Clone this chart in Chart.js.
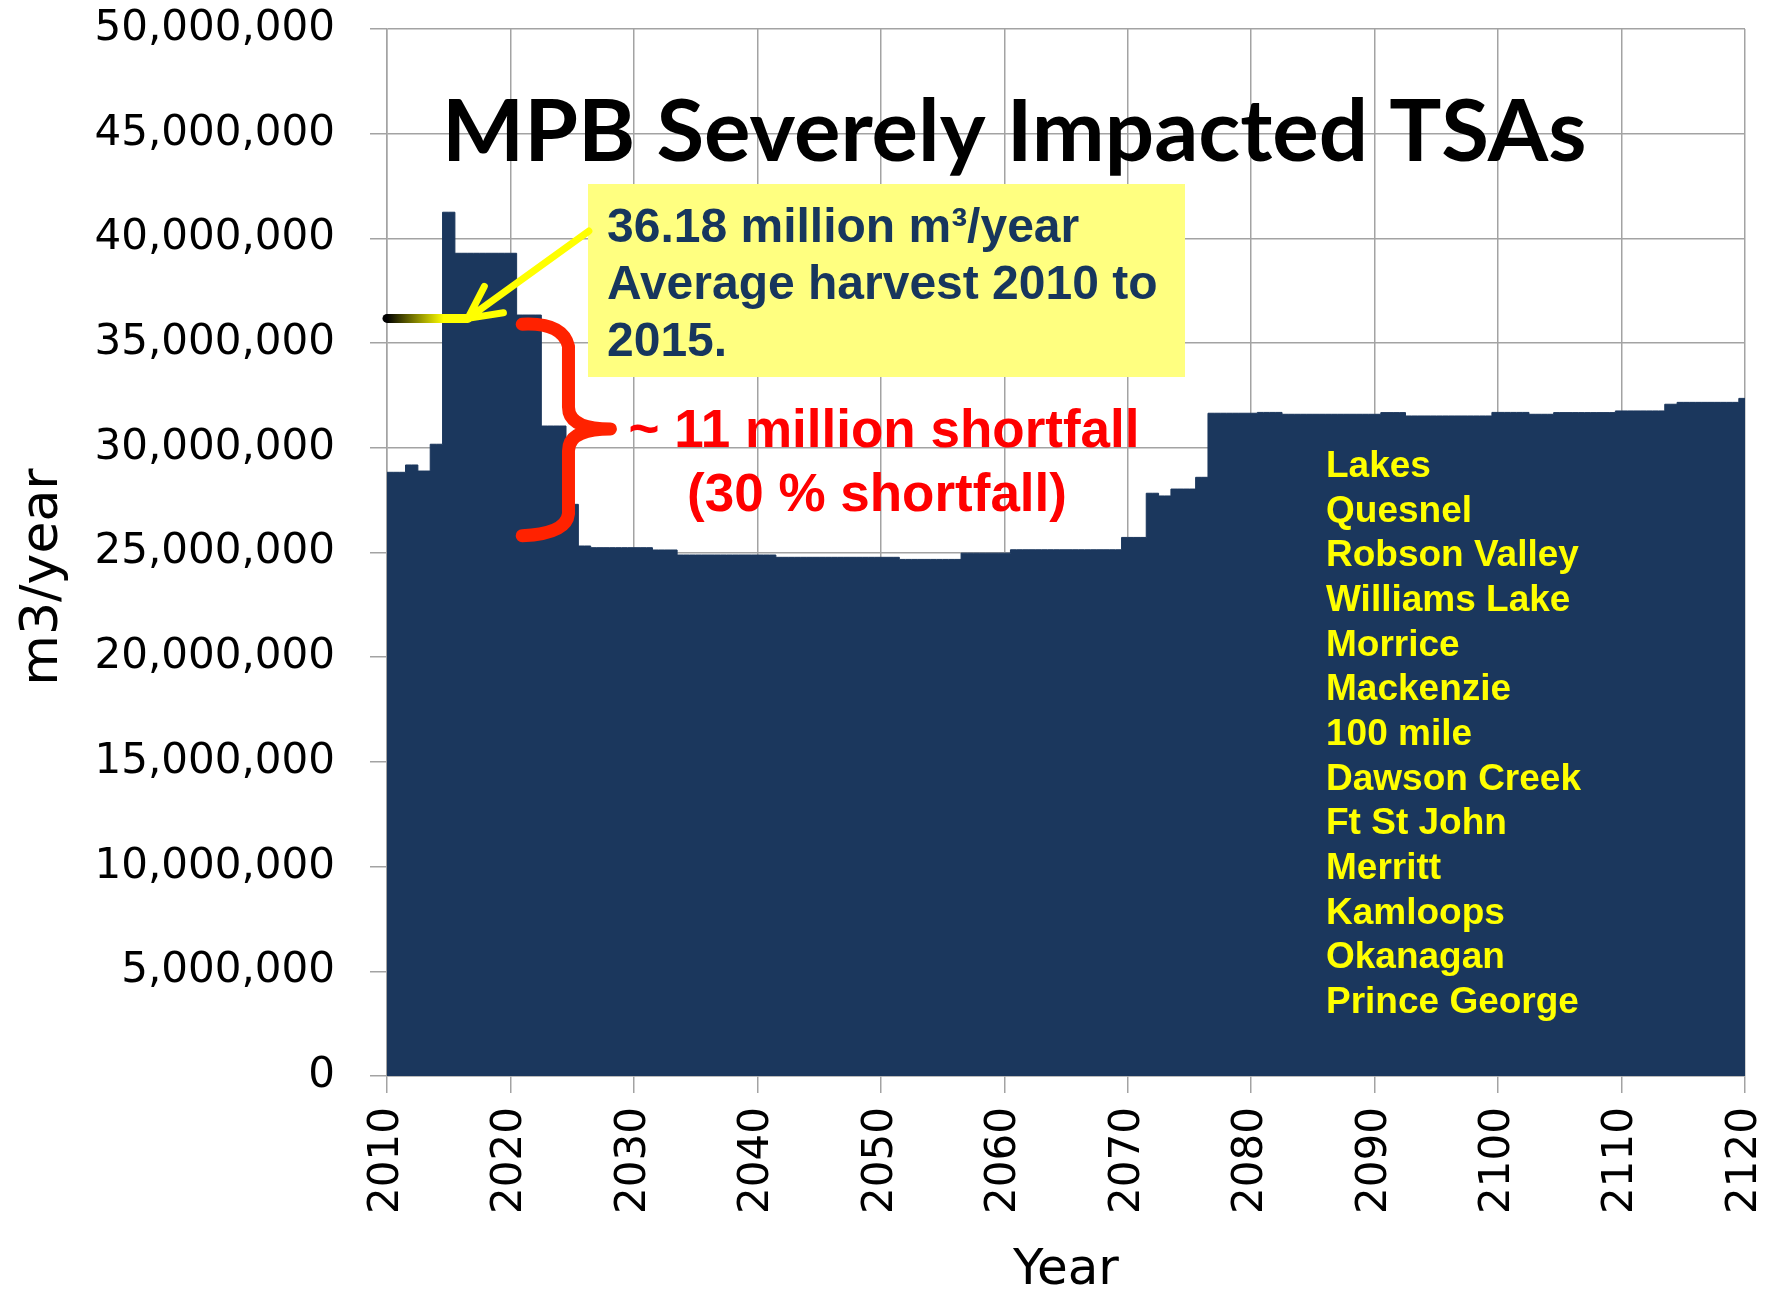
<!DOCTYPE html>
<html lang="en">
<head>
<meta charset="utf-8">
<title>MPB Severely Impacted TSAs</title>
<script src="https://cdn.jsdelivr.net/npm/chart.js@4.4.1/dist/chart.umd.min.js"></script>
<style>
    html, body { margin: 0; padding: 0; background: #ffffff; }
    #chart-wrap { width: 1781px; height: 1292px; }
</style>
</head>
<body>
<div id="chart-wrap">
    <canvas id="harvestChart" width="1781" height="1292"></canvas>
</div>
<script>
// Projected annual harvest (m3/year), one value per year 2010..2120
const years = [
    2010, 2011, 2012, 2013, 2014, 2015, 2016, 2017, 2018, 2019,
    2020, 2021, 2022, 2023, 2024, 2025, 2026, 2027, 2028, 2029,
    2030, 2031, 2032, 2033, 2034, 2035, 2036, 2037, 2038, 2039,
    2040, 2041, 2042, 2043, 2044, 2045, 2046, 2047, 2048, 2049,
    2050, 2051, 2052, 2053, 2054, 2055, 2056, 2057, 2058, 2059,
    2060, 2061, 2062, 2063, 2064, 2065, 2066, 2067, 2068, 2069,
    2070, 2071, 2072, 2073, 2074, 2075, 2076, 2077, 2078, 2079,
    2080, 2081, 2082, 2083, 2084, 2085, 2086, 2087, 2088, 2089,
    2090, 2091, 2092, 2093, 2094, 2095, 2096, 2097, 2098, 2099,
    2100, 2101, 2102, 2103, 2104, 2105, 2106, 2107, 2108, 2109,
    2110, 2111, 2112, 2113, 2114, 2115, 2116, 2117, 2118, 2119,
    2120
];

const harvest = [
    28.83e6, 28.83e6, 29.18e6, 28.89e6, 30.17e6, 41.25e6, 39.29e6, 39.29e6, 39.29e6, 39.29e6,
    39.29e6, 36.34e6, 36.34e6, 31.04e6, 31.04e6, 27.30e6, 25.31e6, 25.23e6, 25.23e6, 25.23e6,
    25.23e6, 25.23e6, 25.12e6, 25.12e6, 24.88e6, 24.88e6, 24.88e6, 24.88e6, 24.88e6, 24.88e6,
    24.88e6, 24.88e6, 24.77e6, 24.77e6, 24.77e6, 24.77e6, 24.77e6, 24.77e6, 24.77e6, 24.77e6,
    24.77e6, 24.77e6, 24.67e6, 24.67e6, 24.67e6, 24.67e6, 24.67e6, 24.97e6, 24.97e6, 24.97e6,
    24.97e6, 25.13e6, 25.13e6, 25.13e6, 25.13e6, 25.13e6, 25.13e6, 25.13e6, 25.13e6, 25.13e6,
    25.72e6, 25.72e6, 27.83e6, 27.70e6, 28.03e6, 28.03e6, 28.59e6, 31.65e6, 31.65e6, 31.65e6,
    31.65e6, 31.69e6, 31.69e6, 31.60e6, 31.60e6, 31.60e6, 31.60e6, 31.60e6, 31.60e6, 31.60e6,
    31.60e6, 31.68e6, 31.68e6, 31.52e6, 31.52e6, 31.52e6, 31.52e6, 31.52e6, 31.52e6, 31.52e6,
    31.69e6, 31.69e6, 31.69e6, 31.60e6, 31.60e6, 31.68e6, 31.68e6, 31.68e6, 31.68e6, 31.68e6,
    31.76e6, 31.76e6, 31.76e6, 31.76e6, 32.08e6, 32.17e6, 32.17e6, 32.17e6, 32.17e6, 32.17e6,
    32.36e6
];

// Average harvest 2010 to 2015 (m3/year)
const AVG_HARVEST = 36.18e6;

const tsaNames = [
    'Lakes', 'Quesnel', 'Robson Valley', 'Williams Lake', 'Morrice', 'Mackenzie',
    '100 mile', 'Dawson Creek', 'Ft St John', 'Merritt', 'Kamloops', 'Okanagan',
    'Prince George'
];

const noteLines = ['36.18 million m\u00b3/year', 'Average harvest 2010 to', '2015.'];
const shortfallLines = ['~ 11 million shortfall', '(30 % shortfall)'];

const FILL_NAVY = '#1b375d';
const GRID_GREY = '#a3a3a3';
const TICK_FONT = { family: "'DejaVu Sans', Verdana, sans-serif", size: 42 };

/**
 * Yellow arrow with an open head, from (x0,y0) to the tip (x1,y1).
 */
function drawArrow(ctx, x0, y0, x1, y1) {
    const ang = Math.atan2(y0 - y1, x0 - x1);
    const head = 36;
    const spread = 0.47;
    ctx.strokeStyle = '#ffff00';
    ctx.lineWidth = 7;
    ctx.lineCap = 'round';
    ctx.lineJoin = 'round';
    ctx.beginPath();
    ctx.moveTo(x0, y0);
    ctx.lineTo(x1, y1);
    ctx.moveTo(x1 + head * Math.cos(ang - spread), y1 + head * Math.sin(ang - spread));
    ctx.lineTo(x1, y1);
    ctx.lineTo(x1 + head * Math.cos(ang + spread), y1 + head * Math.sin(ang + spread));
    ctx.stroke();
}

/**
 * Red curly brace marking the gap between the average and the mid-term level.
 */
function drawBracket(ctx, x, y) {
    const xl = x.getPixelForValue(2020.95);
    const xv = x.getPixelForValue(2024.7);
    const xn = x.getPixelForValue(2028.1);
    const yt = y.getPixelForValue(35.9e6);
    const ym = y.getPixelForValue(30.9e6);
    const yb = y.getPixelForValue(25.8e6);
    const r = 22;

    ctx.strokeStyle = '#ff2200';
    ctx.lineWidth = 13;
    ctx.lineCap = 'round';
    ctx.lineJoin = 'round';
    ctx.beginPath();
    ctx.moveTo(xl, yt);
    ctx.quadraticCurveTo(xv - 6, yt - 2, xv, yt + r);
    ctx.lineTo(xv, ym - r);
    ctx.quadraticCurveTo(xv, ym, xn, ym);
    ctx.moveTo(xn, ym);
    ctx.quadraticCurveTo(xv, ym, xv, ym + r);
    ctx.lineTo(xv, yb - r);
    ctx.quadraticCurveTo(xv - 2, yb - 2, xl, yb);
    ctx.stroke();
}

// drop the label-overflow padding so the plot box sits where the layout padding puts it
function fixPadding(scale) {
    scale.paddingTop = 0;
    scale.paddingBottom = 0;
    scale.paddingLeft = 0;
    scale.paddingRight = 0;
}

const overlayPlugin = {
    id: 'mpbOverlay',
    afterDatasetsDraw(chart) {
        const { ctx } = chart;
        const x = chart.scales.x;
        const y = chart.scales.y;
        ctx.save();

        // Chart title inside the plot
        ctx.fillStyle = '#000000';
        ctx.font = "bold 87px Lato, 'Open Sans', sans-serif";
        ctx.textAlign = 'left';
        ctx.textBaseline = 'alphabetic';
        ctx.fillText('MPB Severely Impacted TSAs', 442, 161);

        // Average harvest bar, black fading to yellow
        const avgY = y.getPixelForValue(AVG_HARVEST);
        const barX0 = x.getPixelForValue(2010);
        const barX1 = x.getPixelForValue(2016.55);
        const grad = ctx.createLinearGradient(barX0, 0, barX1, 0);
        grad.addColorStop(0, '#000000');
        grad.addColorStop(0.7, '#ffff00');
        grad.addColorStop(1, '#ffff00');
        ctx.strokeStyle = grad;
        ctx.lineWidth = 9;
        ctx.lineCap = 'round';
        ctx.beginPath();
        ctx.moveTo(barX0, avgY);
        ctx.lineTo(barX1, avgY);
        ctx.stroke();

        // Note box
        ctx.fillStyle = '#ffff80';
        ctx.fillRect(588, 184, 597, 193);
        ctx.fillStyle = '#17365d';
        ctx.font = "bold 48px 'Liberation Sans', Arial, sans-serif";
        noteLines.forEach((line, i) => ctx.fillText(line, 607, 242 + i * 57));

        drawArrow(ctx, x.getPixelForValue(2026.35), y.getPixelForValue(40.35e6), barX1, avgY);

        drawBracket(ctx, x, y);

        // Shortfall label
        ctx.fillStyle = '#ff0000';
        ctx.font = "bold 53px 'Liberation Sans', Arial, sans-serif";
        ctx.textAlign = 'center';
        ctx.fillText(shortfallLines[0], 884, 447);
        ctx.fillText(shortfallLines[1], 877, 511);

        // Timber supply areas
        ctx.fillStyle = '#ffff00';
        ctx.font = "bold 37px 'Liberation Sans', Arial, sans-serif";
        ctx.textAlign = 'left';
        tsaNames.forEach((name, i) => ctx.fillText(name, 1326, 477 + i * 44.65));

        ctx.restore();
    },
    afterDraw(chart) {
        const { ctx } = chart;
        ctx.save();
        ctx.translate(43, 577);
        ctx.rotate(-Math.PI / 2);
        ctx.fillStyle = '#000000';
        ctx.font = "52px 'DejaVu Sans', Verdana, sans-serif";
        ctx.textAlign = 'center';
        ctx.textBaseline = 'middle';
        ctx.fillText('m3/year', 0, 0);
        ctx.restore();
    }
};

const ctx = document.getElementById('harvestChart').getContext('2d');

new Chart(ctx, {
    type: 'line',
    data: {
        datasets: [{
            label: 'Harvest (m3/year)',
            data: years.map((yr, i) => ({ x: yr, y: harvest[i] })),
            stepped: 'middle',
            fill: 'origin',
            backgroundColor: FILL_NAVY,
            borderColor: FILL_NAVY,
            borderWidth: 1,
            pointRadius: 0,
        }]
    },
    options: {
        responsive: false,
        animation: false,
        layout: {
            padding: { top: 29, right: 36, left: 0, bottom: 0 }
        },
        plugins: {
            legend: { display: false },
            tooltip: { enabled: false }
        },
        scales: {
            x: {
                type: 'linear',
                min: 2010,
                max: 2120,
                afterFit: (scale) => {
                    scale.height = 216;
                    fixPadding(scale);
                },
                grid: {
                    color: GRID_GREY,
                    lineWidth: 1.5,
                    tickLength: 17
                },
                border: { color: GRID_GREY, width: 1.5 },
                ticks: {
                    stepSize: 10,
                    minRotation: 90,
                    maxRotation: 90,
                    padding: 14,
                    color: '#000000',
                    font: TICK_FONT,
                    callback: (value) => String(value)
                },
                title: {
                    display: true,
                    text: 'Year',
                    color: '#000000',
                    font: { family: "'DejaVu Sans', Verdana, sans-serif", size: 50, lineHeight: 1 },
                    padding: { top: 0, bottom: -4 }
                }
            },
            y: {
                min: 0,
                max: 50000000,
                afterFit: (scale) => {
                    scale.width = 387;
                    fixPadding(scale);
                },
                grid: {
                    color: GRID_GREY,
                    lineWidth: 1.5,
                    tickLength: 17
                },
                border: { color: GRID_GREY, width: 1.5 },
                ticks: {
                    stepSize: 5000000,
                    padding: 35,
                    color: '#000000',
                    font: TICK_FONT,
                    callback: (value) => value.toLocaleString('en-US')
                }
            }
        }
    },
    plugins: [overlayPlugin]
});
</script>
</body>
</html>
